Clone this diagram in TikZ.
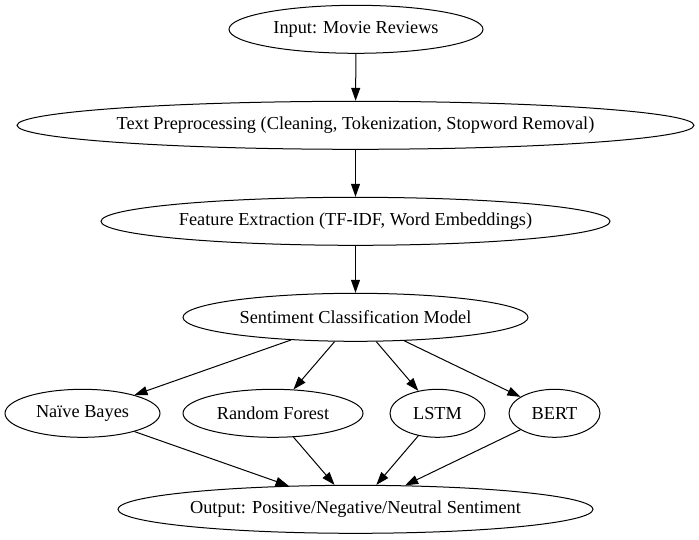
\documentclass[tikz,border=0pt]{standalone}
\usepackage{fontspec}
\setmainfont{Liberation Serif}
\usetikzlibrary{shapes.geometric,arrows.meta}
\begin{document}
\begin{tikzpicture}[x=1pt,y=-1pt,
  el/.style={draw=black,ellipse,line width=1pt,inner sep=0pt,minimum height=48pt,font=\fontsize{18.3}{20}\selectfont},
  arr/.style={line width=1pt,-{Triangle[length=13pt,width=9pt]}}]
\useasboundingbox (0,0) rectangle (699,539);
\node[el,minimum width=254pt] (in) at (356,29.3) {Input: Movie Reviews};
\node[el,minimum width=677pt] (pre) at (355.5,125.3) {Text Preprocessing (Cleaning, Tokenization, Stopword Removal)};
\node[el,minimum width=509pt] (fe) at (355.5,221.3) {Feature Extraction (TF-IDF, Word Embeddings)};
\node[el,minimum width=345pt] (sc) at (355.5,317.3) {Sentiment Classification Model};
\node[el,minimum width=155pt] (nb) at (82.5,413.3) {Naïve Bayes};
\node[el,minimum width=180pt] (rf) at (273,413.3) {Random Forest};
\node[el,minimum width=95pt] (ls) at (437.5,413.3) {LSTM};
\node[el,minimum width=91pt] (be) at (554.5,413.3) {BERT};
\node[el,minimum width=475pt] (out) at (355.5,509.3) {Output: Positive/Negative/Neutral Sentiment};
\draw[arr] (in) -- (pre);
\draw[arr] (pre) -- (fe);
\draw[arr] (fe) -- (sc);
\draw[arr] (sc) -- (nb);
\draw[arr] (sc) -- (rf);
\draw[arr] (sc) -- (ls);
\draw[arr] (sc) -- (be);
\draw[arr] (nb) -- (out);
\draw[arr] (rf) -- (out);
\draw[arr] (ls) -- (out);
\draw[arr] (be) -- (out);
\end{tikzpicture}
\end{document}
